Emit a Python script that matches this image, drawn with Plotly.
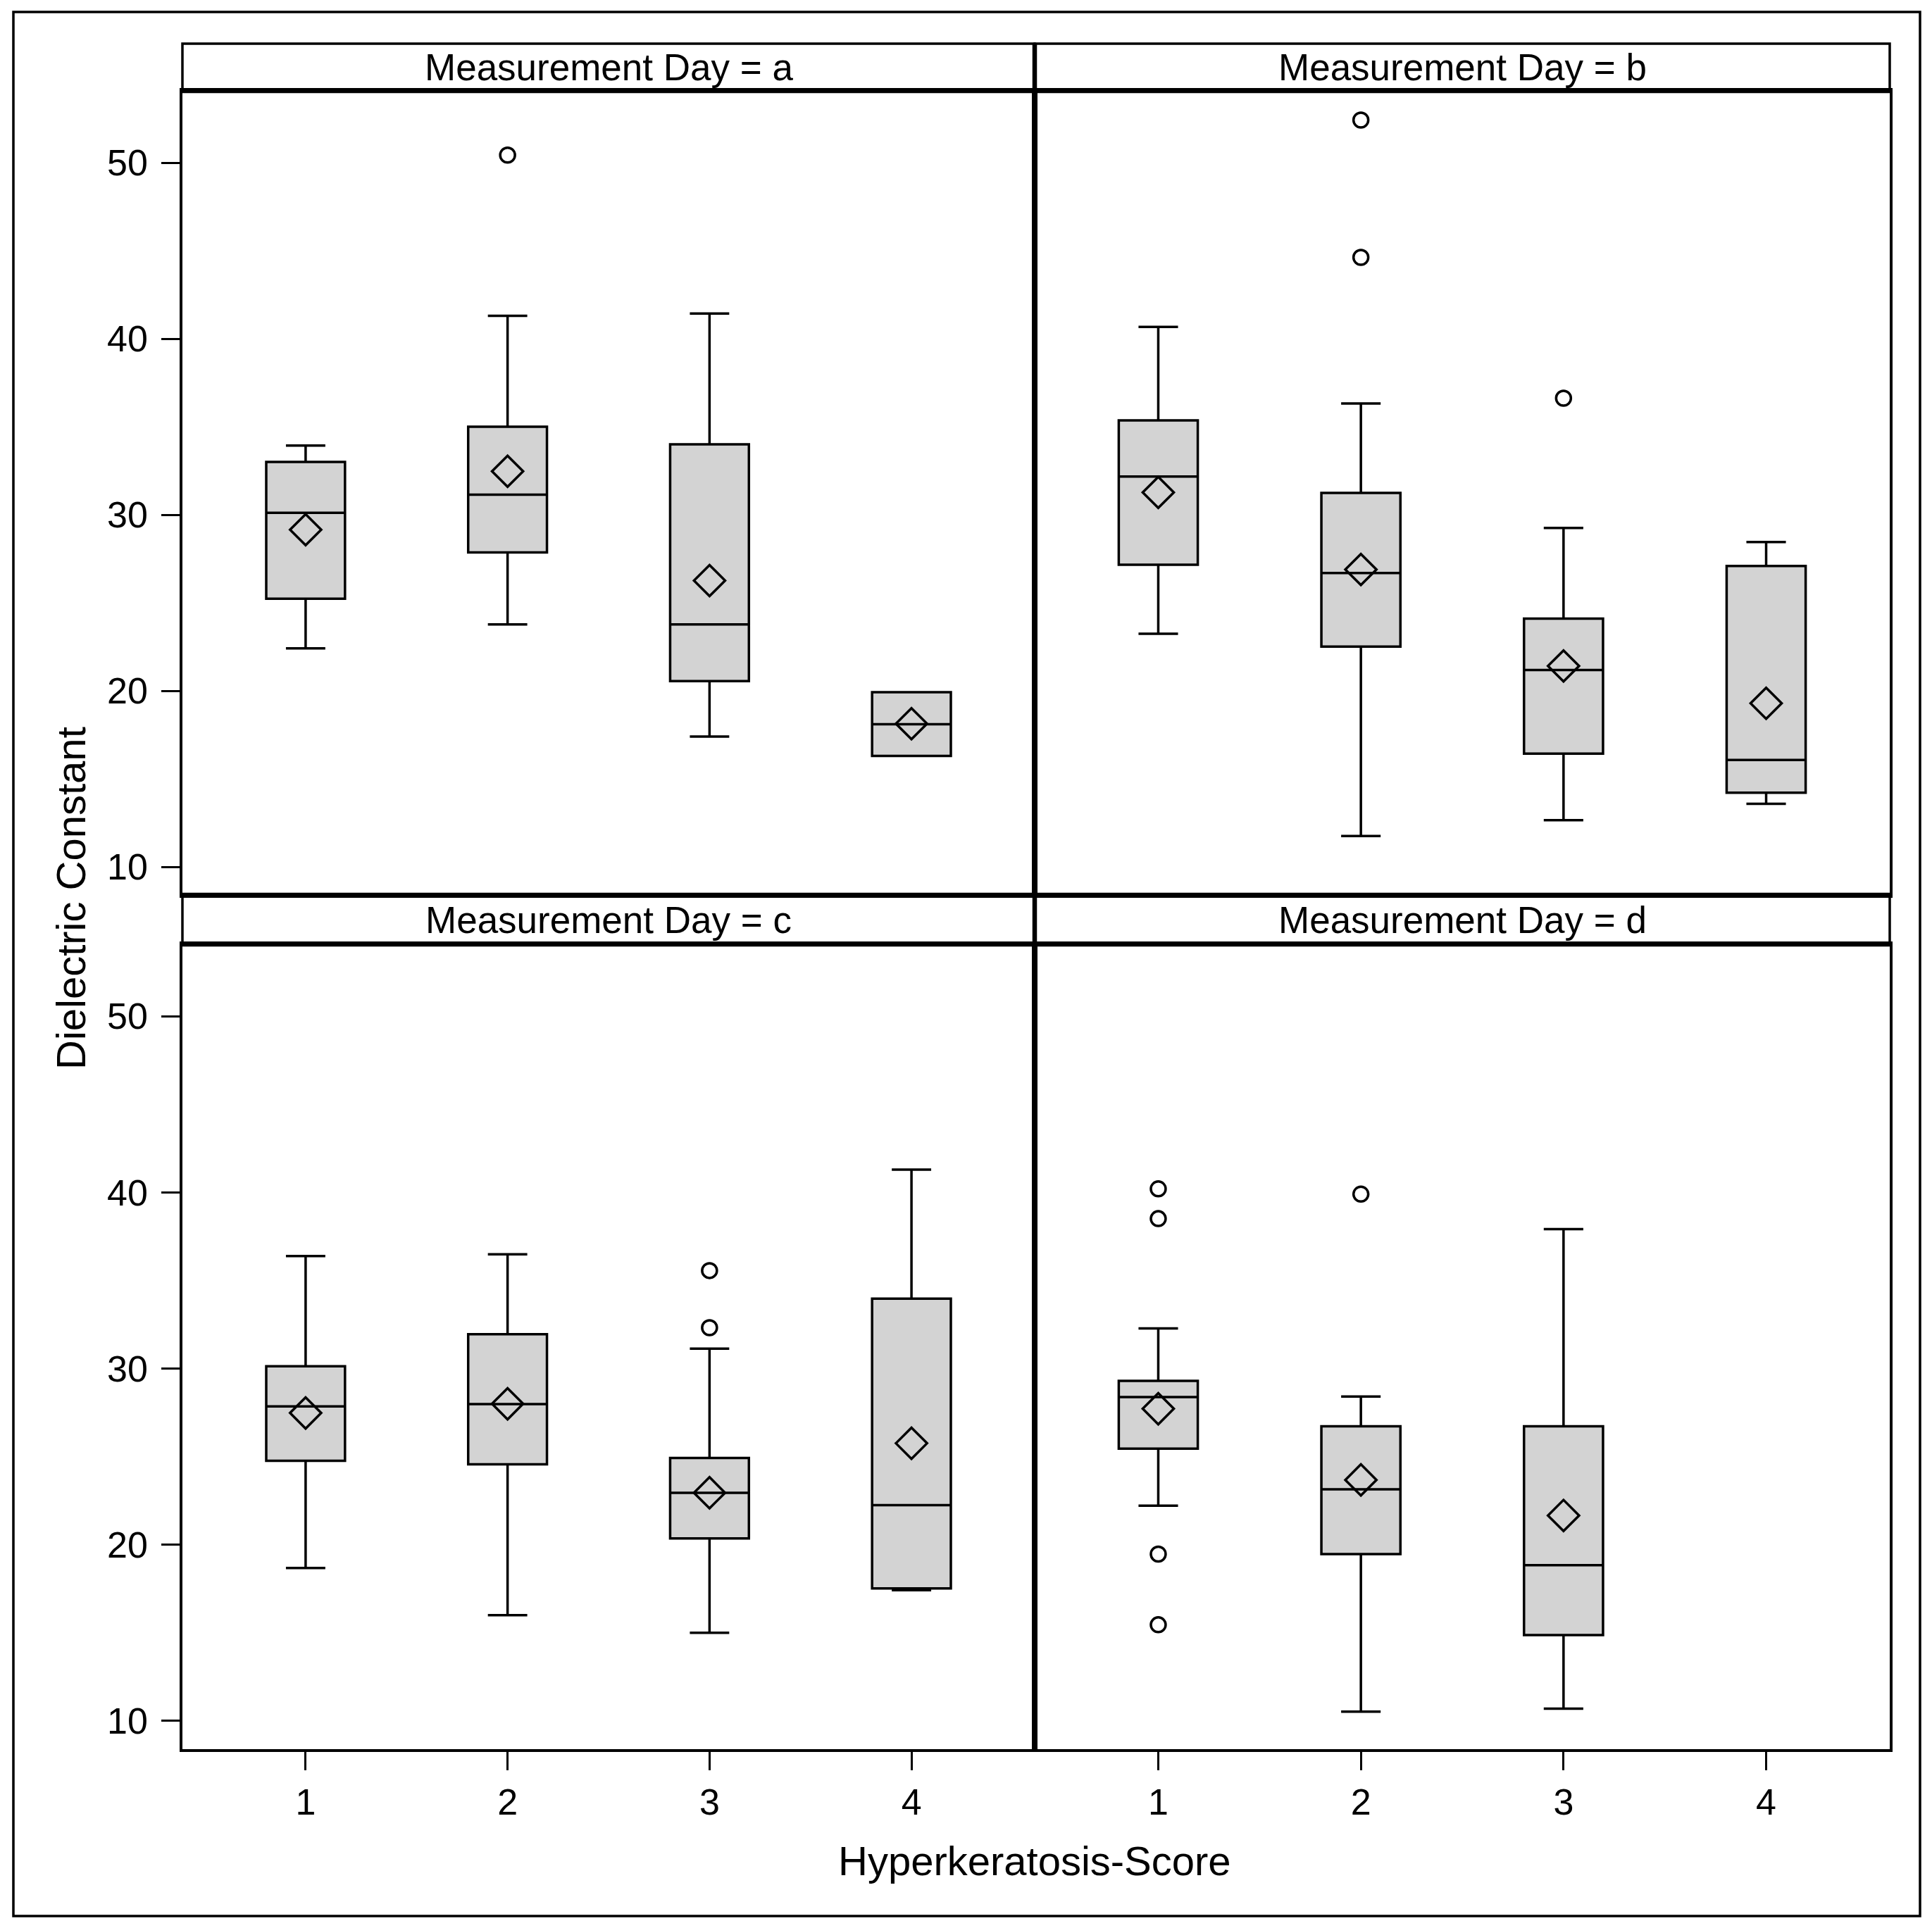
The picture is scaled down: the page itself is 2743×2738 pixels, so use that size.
import plotly.graph_objects as go

# ---------------- data ----------------
DAYS = ["a", "b", "c", "d"]
CATS = {"a": [1, 2, 3, 4], "b": [1, 2, 3, 4], "c": [1, 2, 3, 4], "d": [1, 2, 3]}

LOWER = {"a": [22.41, 23.77, 17.40, 16.30],
         "b": [23.24, 11.75, 12.65, 13.58],
         "c": [18.68, 16.00, 15.00, 17.42],
         "d": [22.22, 10.53, 10.70]}
Q1 = {"a": [25.23, 27.86, 20.55, 16.30],
      "b": [27.16, 22.51, 16.43, 14.21],
      "c": [24.77, 24.57, 20.36, 17.52],
      "d": [25.46, 19.47, 14.87]}
MEDIAN = {"a": [30.11, 31.14, 23.77, 18.10],
          "b": [32.17, 26.69, 21.18, 16.07],
          "c": [27.85, 27.98, 22.95, 22.25],
          "d": [28.38, 23.15, 18.84]}
Q3 = {"a": [33.00, 35.00, 34.00, 19.92],
      "b": [35.36, 31.24, 24.10, 27.09],
      "c": [30.13, 31.95, 24.93, 33.97],
      "d": [29.30, 26.72, 26.72]}
UPPER = {"a": [33.93, 41.30, 41.43, 19.92],
         "b": [40.67, 36.32, 29.25, 28.45],
         "c": [36.39, 36.49, 31.13, 41.29],
         "d": [32.28, 28.41, 37.91]}
MEAN = {"a": [29.15, 32.47, 26.26, 18.13],
        "b": [31.27, 26.89, 21.41, 19.29],
        "c": [27.48, 28.00, 22.95, 25.76],
        "d": [27.72, 23.68, 21.66]}
OUT_X = {"a": [2], "b": [2, 2, 3], "c": [3, 3], "d": [1, 1, 1, 1, 2]}
OUT_Y = {"a": [50.43], "b": [52.42, 44.62, 36.62], "c": [35.56, 32.32],
         "d": [40.20, 38.51, 19.47, 15.46, 39.90]}

X_TICKS = [1, 2, 3, 4]
Y_TICKS = [10, 20, 30, 40, 50]
HEADER = "Measurement Day = {}"
X_TITLE = "Hyperkeratosis-Score"
Y_TITLE = "Dielectric Constant"

# ---------------- layout geometry (pixels) ----------------
W, H = 2743, 2738
FONT = "Liberation Sans, Arial, sans-serif"


def px(x):
    return x / W


def py(y):
    return 1 - y / H


COLS = [(259, 1469), (1469, 2683)]
ROWS = [(62, 129, 1271), (1271, 1341, 2484)]  # header top, header bottom/plot top, plot bottom

fig = go.Figure()

for i, day in enumerate(DAYS):
    r, c = divmod(i, 2)
    n = i + 1
    xa = "x" if n == 1 else f"x{n}"
    ya = "y" if n == 1 else f"y{n}"
    x0, x1 = COLS[c]
    ht, hb, pb = ROWS[r]

    xkey = "xaxis" if n == 1 else f"xaxis{n}"
    ykey = "yaxis" if n == 1 else f"yaxis{n}"
    fig.update_layout({
        xkey: dict(domain=[px(x0), px(x1)], anchor=ya, range=[0.39, 4.61],
                   tickvals=X_TICKS, ticktext=[str(v) for v in X_TICKS],
                   showticklabels=(r == 1), ticks="outside" if r == 1 else "",
                   ticklen=26, tickwidth=3, tickcolor="black",
                   showline=True, linecolor="black", linewidth=3.5, mirror=True,
                   showgrid=False, zeroline=False, ticklabelstandoff=1,
                   tickfont=dict(family=FONT, size=52, color="black")),
        ykey: dict(domain=[py(pb), py(hb)], anchor=xa, range=[8.4, 54.08],
                   tickvals=Y_TICKS, ticktext=[str(v) for v in Y_TICKS],
                   showticklabels=(c == 0), ticks="outside" if c == 0 else "",
                   ticklen=26, tickwidth=3, tickcolor="black",
                   showline=True, linecolor="black", linewidth=3.5, mirror=True,
                   showgrid=False, zeroline=False, ticklabelstandoff=9,
                   tickfont=dict(family=FONT, size=52, color="black")),
    })

    # boxes from precomputed statistics
    fig.add_trace(go.Box(
        x=CATS[day], q1=Q1[day], median=MEDIAN[day], q3=Q3[day],
        lowerfence=LOWER[day], upperfence=UPPER[day],
        width=0.39, whiskerwidth=0.5, boxpoints=False,
        fillcolor="#D3D3D3", line=dict(color="black", width=3.5),
        xaxis=xa, yaxis=ya, showlegend=False, hoverinfo="skip"))
    # means
    fig.add_trace(go.Scatter(
        x=CATS[day], y=MEAN[day], mode="markers",
        marker=dict(symbol="diamond-open", size=34, color="black",
                    line=dict(color="black", width=3.5)),
        xaxis=xa, yaxis=ya, showlegend=False, hoverinfo="skip"))
    # outliers
    fig.add_trace(go.Scatter(
        x=OUT_X[day], y=OUT_Y[day], mode="markers",
        marker=dict(symbol="circle-open", size=21, color="black",
                    line=dict(color="black", width=3.5)),
        xaxis=xa, yaxis=ya, showlegend=False, hoverinfo="skip"))

    # header strip
    fig.add_shape(type="rect", xref="paper", yref="paper",
                  x0=px(x0), x1=px(x1), y0=py(hb), y1=py(ht),
                  line=dict(color="black", width=3.5), fillcolor="white", layer="below")
    fig.add_shape(type="line", xref="paper", yref="paper",
                  x0=px(x0), x1=px(x1), y0=py(hb), y1=py(hb),
                  line=dict(color="black", width=6.5))
    fig.add_annotation(xref="paper", yref="paper", x=px((x0 + x1) / 2), y=py((ht + hb) / 2),
                       text=HEADER.format(day), showarrow=False,
                       xanchor="center", yanchor="middle",
                       font=dict(family=FONT, size=53, color="black"))

# thick divider lines between panels
fig.add_shape(type="line", xref="paper", yref="paper",
              x0=px(1469), x1=px(1469), y0=py(2484), y1=py(62),
              line=dict(color="black", width=6.5))
fig.add_shape(type="line", xref="paper", yref="paper",
              x0=px(259), x1=px(2683), y0=py(1271), y1=py(1271),
              line=dict(color="black", width=6.5))

# outer border
fig.add_shape(type="rect", xref="paper", yref="paper",
              x0=px(19), x1=px(2726), y0=py(2721), y1=py(17),
              line=dict(color="black", width=3.5))

# axis titles
fig.add_annotation(xref="paper", yref="paper", x=px(1469), y=py(2642),
                   text=X_TITLE, showarrow=False, xanchor="center", yanchor="middle",
                   font=dict(family=FONT, size=58, color="black"))
fig.add_annotation(xref="paper", yref="paper", x=px(100), y=py(1276),
                   text=Y_TITLE, showarrow=False, textangle=-90,
                   xanchor="center", yanchor="middle",
                   font=dict(family=FONT, size=58, color="black"))

fig.update_layout(width=W, height=H, margin=dict(l=0, r=0, t=0, b=0),
                  paper_bgcolor="white", plot_bgcolor="white", showlegend=False)

fig.write_html("out.html", config={"displayModeBar": False},
               post_script="document.body.style.margin='0';")
